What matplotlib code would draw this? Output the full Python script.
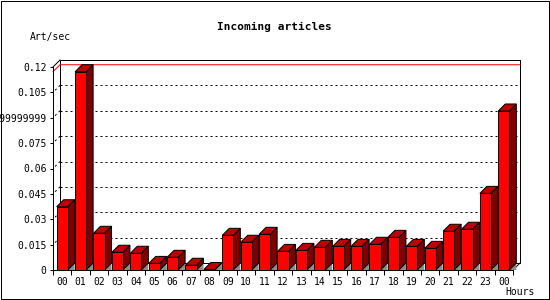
import numpy as np
import matplotlib.pyplot as plt
from matplotlib.patches import Polygon, Rectangle

# data
HOURS = ["00", "01", "02", "03", "04", "05", "06", "07", "08", "09", "10", "11",
         "12", "13", "14", "15", "16", "17", "18", "19", "20", "21", "22", "23", "00"]
ART_PER_SEC = [0.0374, 0.1172, 0.0217, 0.0105, 0.0099, 0.0039, 0.0075, 0.0028,
               0.0003, 0.0205, 0.0164, 0.0211, 0.0110, 0.0116, 0.0134, 0.0140,
               0.0140, 0.0152, 0.0193, 0.0140, 0.0128, 0.0229, 0.0241, 0.0453,
               0.0940]
Y_TICKS = [0, 0.015, 0.03, 0.045, 0.06, 0.075, 0.09, 0.105, 0.12]
Y_TICK_LABELS = ["0", "0.015", "0.03", "0.045", "0.06", "0.075",
                 "0.0899999999999", "0.105", "0.12"]

FRONT = "#ff0000"
TOP = "#c00000"
SIDE = "#800000"
FLOOR = "#8c8c8c"
DEPTH_PX = 7
BAR_W = 0.6
LW = 0.72

plt.rcParams["font.family"] = ["DejaVu Sans Mono", "DejaVu Sans"]

W, H = 550, 300
fig = plt.figure(figsize=(W / 100, H / 100), dpi=100)
fig.patch.set_facecolor("white")
ax = fig.add_axes([53 / W, 30 / H, 460 / W, 203 / H])
ax.patch.set_visible(False)

n = len(HOURS)
x = np.arange(n)
ax.set_xlim(-0.5, n - 0.5)
ax.set_ylim(0, Y_TICKS[-1])

# depth offset in data units
dx = DEPTH_PX * n / 460
dy = DEPTH_PX * Y_TICKS[-1] / 203
x0, x1 = -0.5, n - 0.5
ytop = Y_TICKS[-1]

# back wall
ax.add_patch(Polygon([(x0 + dx, dy), (x1 + dx, dy), (x1 + dx, ytop + dy), (x0 + dx, ytop + dy)],
                     closed=True, facecolor="white", edgecolor="black", lw=LW,
                     clip_on=False, zorder=0.5))
ax.plot([x0, x0 + dx], [ytop, ytop + dy], color="black", lw=LW, clip_on=False, zorder=0.6)
ax.plot([x1, x1 + dx], [0, dy], color="black", lw=LW, clip_on=False, zorder=0.6)

# dotted grid on the back wall, with short diagonal stubs to the front axis
for v in Y_TICKS[1:-1]:
    ax.plot([x0 + dx, x1 + dx], [v + dy, v + dy], color="black", lw=LW,
            linestyle=(0, (2, 3)), clip_on=False, zorder=0.6)
    ax.plot([x0, x0 + dx], [v, v + dy], color="black", lw=LW,
            linestyle=(2, (2, 3)), clip_on=False, zorder=0.6)

# max line
vmax = max(ART_PER_SEC)
ax.plot([x0, x0 + dx, x1 + dx], [vmax, vmax + dy, vmax + dy], color="red", lw=LW,
        clip_on=False, zorder=0.7)

# bars
for i, v in enumerate(ART_PER_SEC):
    xl = x[i] - BAR_W / 2
    xr = x[i] + BAR_W / 2
    ax.add_patch(Polygon([(xr, 0), (xr + dx, dy), (xr + dx, 0)], closed=True,
                         facecolor=FLOOR, edgecolor="none", clip_on=False, zorder=1))
    ax.add_patch(Polygon([(xr, 0), (xr + dx, dy), (xr + dx, v + dy), (xr, v)], closed=True,
                         facecolor=SIDE, edgecolor="black", lw=LW, clip_on=False, zorder=2))
    ax.add_patch(Polygon([(xl, v), (xr, v), (xr + dx, v + dy), (xl + dx, v + dy)], closed=True,
                         facecolor=TOP, edgecolor="black", lw=LW, clip_on=False, zorder=2))
ax.bar(x, ART_PER_SEC, width=BAR_W, color=FRONT, edgecolor="black", linewidth=LW, zorder=3)

# axes
for s in ["top", "right"]:
    ax.spines[s].set_visible(False)
for s in ["left", "bottom"]:
    ax.spines[s].set_linewidth(LW)
    ax.spines[s].set_zorder(4)

ax.set_yticks(Y_TICKS)
ax.set_yticklabels(Y_TICK_LABELS)
ax.tick_params(axis="y", length=2.2, width=LW, pad=2.5, labelsize=7)
ax.set_xticks(np.arange(n + 1) - 0.5)
ax.set_xticklabels([])
ax.set_xticks(x, minor=True)
ax.set_xticklabels(HOURS, minor=True)
ax.tick_params(axis="x", which="major", length=3.6, width=LW)
ax.tick_params(axis="x", which="minor", length=0, pad=5, labelsize=7)

fig.text(274 / W, 1 - 27 / H, "Incoming articles", ha="center", va="center",
         fontsize=8, fontweight="bold")
fig.text(30 / W, 1 - 37 / H, "Art/sec", ha="left", va="center", fontsize=7)
fig.text(505 / W, 1 - 292 / H, "Hours", ha="left", va="center", fontsize=7)

fig.patches.append(Rectangle((0.5 / W, 1.5 / H), 548 / W, 298 / H, transform=fig.transFigure,
                             fill=False, edgecolor="black", lw=LW))

fig.savefig("out.png", dpi=100)
